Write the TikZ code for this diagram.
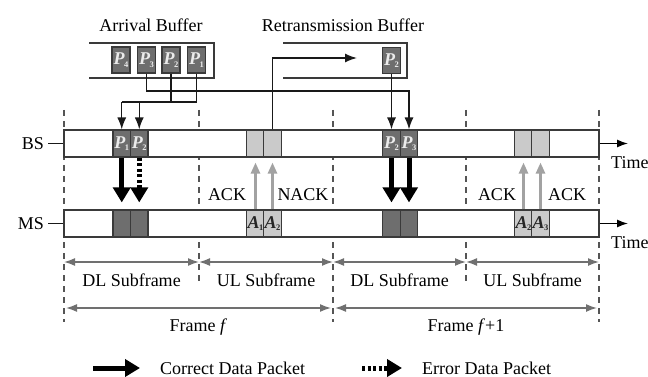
\documentclass[tikz,border=0pt]{standalone}
\usepackage{fontspec}
\setmainfont{Liberation Serif}
\usetikzlibrary{arrows.meta,calc}

\definecolor{barc}{HTML}{3A3A3A}
\definecolor{darkpk}{HTML}{6E6E6E}
\definecolor{lightpk}{HTML}{CACACA}
\definecolor{ackc}{HTML}{A2A2A2}
\definecolor{dimc}{HTML}{707070}
\definecolor{dashc}{HTML}{555555}

% packet and acknowledgement labels
\newcommand\pkt[1]{\textbf{\textit{P}}\kern-0.5pt\raisebox{-2.5pt}{\fontsize{8.5}{9}\selectfont\bfseries #1}}
\newcommand\ackl[1]{\textbf{\textit{A}}\kern-0.5pt\raisebox{-2.5pt}{\fontsize{8.5}{9}\selectfont\bfseries #1}}

\begin{document}
\begin{tikzpicture}[x=1pt,y=-1pt,
  lbl/.style={font=\fontsize{18}{20}\selectfont, inner sep=0pt},
  bar/.style={draw=barc, line width=1.3pt, fill=white, minimum width=535pt,
    minimum height=27pt, inner sep=0pt},
  pk/.style={draw=barc, line width=1.1pt, fill=darkpk, minimum width=17.5pt,
    minimum height=27pt, inner sep=0pt, text=white!92!black, font=\fontsize{18}{18}\selectfont},
  ak/.style={pk, fill=lightpk, text=black!85},
  bufpk/.style={pk, minimum width=18pt, minimum height=26pt},
  buf/.style={draw=barc, line width=1.6pt},
  conn/.style={draw=black!90, line width=1.4pt, -{Latex[length=12pt,width=9pt]}},
  wire/.style={draw=black!90, line width=1.4pt},
  okarr/.style={draw=black, line width=5pt, -{Triangle[length=15pt,width=17pt]}},
  errarr/.style={draw=black, line width=5pt, dash pattern=on 3pt off 2.5pt,
    -{Triangle[length=15pt,width=17pt]}},
  ackarr/.style={draw=ackc, line width=2.5pt, -{Triangle[length=11pt,width=9pt]}},
  dimarr/.style={draw=dimc, line width=1.5pt,
    {Latex[length=11pt,width=8pt]}-{Latex[length=11pt,width=8pt]}},
  timearr/.style={draw=black, line width=1.4pt, -{Latex[length=11pt,width=8pt]}},
  bound/.style={draw=dashc, line width=1.2pt, dash pattern=on 6pt off 5pt},
]
\useasboundingbox (0,0) rectangle (648,377);
\clip (0,0) rectangle (648,377);

% frame and subframe boundaries
\foreach \x in {64,333,599} \draw[bound] (\x,110) -- (\x,322);
\foreach \x in {199,466} \draw[bound] (\x,110) -- (\x,283);

% base station and mobile station time lines
\node[bar] (bs) at (331.5,143.5) {};
\node[bar] (ms) at (331.5,223.5) {};
\node[lbl, anchor=east] (bslbl) at (44,143.5) {BS};
\node[lbl, anchor=east] (mslbl) at (44,223.5) {MS};
\draw[wire] (bslbl.east) ++(4,0) coordinate (bst) -- (bs.west);
\draw[wire] (mslbl.east) ++(4,0) coordinate (mst) -- (ms.west);

% downlink packets at the BS, frame f and frame f+1
\node[pk] (bP1) at (121.75,143.5) {\pkt1};
\node[pk] (bP2) at (139.25,143.5) {\pkt2};
\node[pk] (bQ2) at (391.5,143.5) {\pkt2};
\node[pk] (bQ3) at (409,143.5) {\pkt3};
% received packets at the MS
\node[pk] (mP1) at (121.75,223.5) {};
\node[pk] (mP2) at (139.25,223.5) {};
\node[pk] (mQ2) at (391.5,223.5) {};
\node[pk] (mQ3) at (409,223.5) {};
% uplink acknowledgements
\node[ak] (bA1) at (255.5,143.5) {};
\node[ak] (bA2) at (272.5,143.5) {};
\node[ak] (bB2) at (523.5,143.5) {};
\node[ak] (bB3) at (540.5,143.5) {};
\node[ak] (mA1) at (255.5,223.5) {\ackl1};
\node[ak] (mA2) at (272.5,223.5) {\ackl2};
\node[ak] (mB2) at (523.5,223.5) {\ackl2};
\node[ak] (mB3) at (540.5,223.5) {\ackl3};

% buffers
\node[lbl] (arrlbl) at (151,25) {Arrival Buffer};
\node[lbl] (retlbl) at (343,25) {Retransmission Buffer};
\draw[buf] (89,43) -- (214,43) -- (214,78) -- (89,78);
\draw[buf] (283,43) -- (407,43) -- (407,78) -- (283,78);
\node[bufpk] (aP4) at (121,60) {\pkt4};
\node[bufpk] (aP3) at (146.5,60) {\pkt3};
\node[bufpk] (aP2) at (171,60) {\pkt2};
\node[bufpk] (aP1) at (196.5,60) {\pkt1};
\node[bufpk] (rP2) at (391.5,60.5) {\pkt2};

% packet routing from the buffers to the BS
\coordinate (busA) at (0,102);
\coordinate (busB) at (0,91);
\coordinate (busR) at (0,58);
\coordinate (rtip) at (357,58);
\draw[wire] (aP1.south) -- (aP1.south |- busA) -- (bP1.north |- busA);
\draw[wire] (aP2.south) -- (aP2.south |- busA);
\draw[conn] (bP1.north |- busA) -- (bP1.north);
\draw[conn] (bP2.north |- busA) -- (bP2.north);
\draw[conn] (aP3.south) -- (aP3.south |- busB) -| (bQ3.north);
\draw[conn] (rP2.south) -- (bQ2.north);
\draw[conn] (bA2.north) -- (bA2.north |- busR) -- (rtip);

% downlink transmissions
\draw[okarr, shorten >=7pt] (bP1.south) -- (mP1.north);
\draw[errarr, shorten >=7pt] (bP2.south) -- (mP2.north);
\draw[okarr, shorten >=7pt] (bQ2.south) -- (mQ2.north);
\draw[okarr, shorten >=7pt] (bQ3.south) -- (mQ3.north);

% uplink acknowledgements
\draw[ackarr, shorten >=5pt] (mA1.north) -- (bA1.south);
\draw[ackarr, shorten >=5pt] (mA2.north) -- (bA2.south);
\draw[ackarr, shorten >=5pt] (mB2.north) -- (bB2.south);
\draw[ackarr, shorten >=5pt] (mB3.north) -- (bB3.south);
\node[lbl] (ack1) at (227,195) {ACK};
\node[lbl] (nack1) at (303,195) {NACK};
\node[lbl] (ack2) at (497,195) {ACK};
\node[lbl] (ack3) at (567,195) {ACK};

% time axes
\coordinate (bsend) at (628,143.5);
\coordinate (msend) at (628,223.5);
\draw[timearr] (bs.east) -- (bsend);
\draw[timearr] (ms.east) -- (msend);
\node[lbl, anchor=west] (time1) at (611,163) {Time};
\node[lbl, anchor=west] (time2) at (611,243) {Time};

% subframe and frame extents
\foreach \a/\b [count=\i] in {64/199,199/333,333/466,466/599}
  \draw[dimarr] (\a,262) coordinate (s\i a) -- (\b,262) coordinate (s\i b);
\node[lbl] (dl1) at (131.5,280) {DL Subframe};
\node[lbl] (ul1) at (266,280) {UL Subframe};
\node[lbl] (dl2) at (399.5,280) {DL Subframe};
\node[lbl] (ul2) at (532.5,280) {UL Subframe};
\draw[dimarr] (66,308) coordinate (fa) -- (331,308) coordinate (fb);
\draw[dimarr] (335,308) coordinate (fc) -- (597,308) coordinate (fd);
\node[lbl] (fr1) at (198.5,327) {Frame \textit{f}};
\node[lbl] (fr2) at (466,327) {Frame \textit{f}+1};

% legend
\coordinate (lg1) at (93,368);
\coordinate (lg2) at (140,368);
\coordinate (lg3) at (362,368);
\coordinate (lg4) at (402,368);
\draw[okarr] (lg1) -- (lg2);
\draw[errarr] (lg3) -- (lg4);
\node[lbl, anchor=west] (lgok) at (160,368) {Correct Data Packet};
\node[lbl, anchor=west] (lgerr) at (422,368) {Error Data Packet};
\end{tikzpicture}
\end{document}
